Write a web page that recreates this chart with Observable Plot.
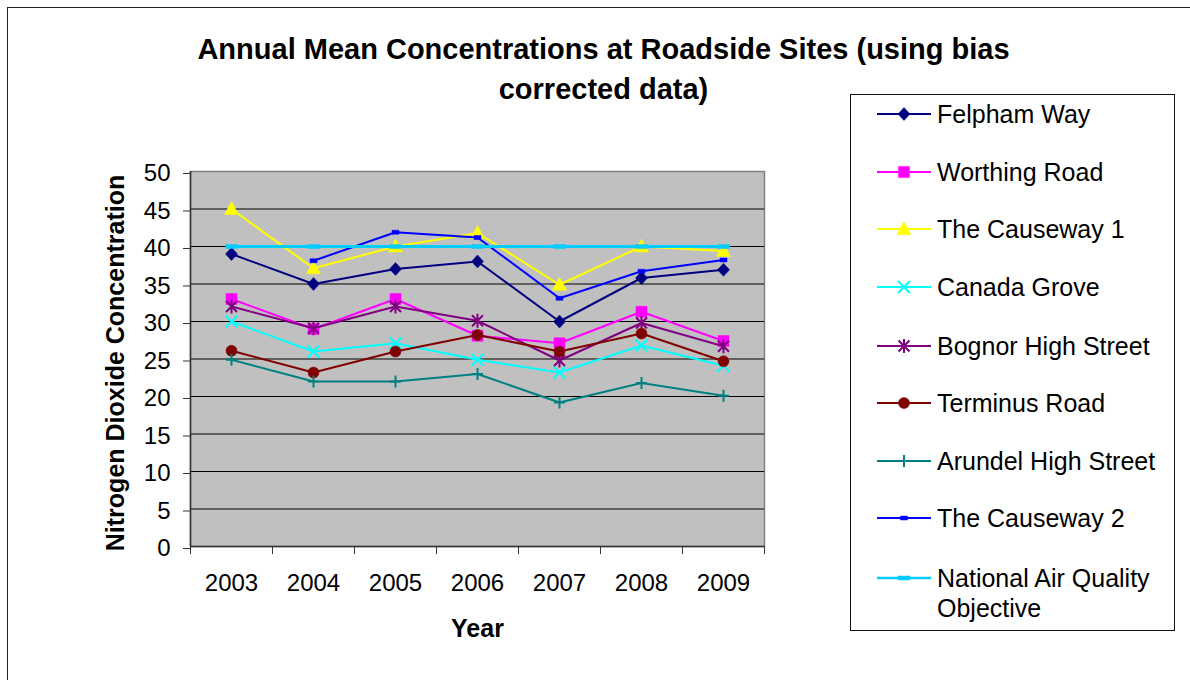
<!DOCTYPE html>
<html>
<head>
<meta charset="utf-8">
<script src="https://cdn.jsdelivr.net/npm/d3@7"></script>
<script src="https://cdn.jsdelivr.net/npm/@observablehq/plot@0.6"></script>
<style>
  html, body { margin: 0; padding: 0; background: #fff; overflow: hidden; }
  body { font-family: "Liberation Sans", Arial, sans-serif; color: #000; }
  #wrap { position: relative; width: 1190px; height: 680px; overflow: hidden; }
  #chart { position: absolute; left: 0; top: 0; }
  #border { position: absolute; left: 7px; top: 7px; width: 1300px; height: 800px; border: 1.5px solid #222; box-sizing: border-box; }
  #title { position: absolute; left: 0; top: 29px; width: 1207px; text-align: center; font-weight: bold; font-size: 29px; line-height: 40px; }
  #legend { position: absolute; left: 850px; top: 94px; width: 325px; height: 537px; border: 1.2px solid #111; box-sizing: border-box; background: #fff; }
  .lrow { position: absolute; left: 0; font-size: 25px; line-height: 30px; white-space: nowrap; }
  .lsym { position: absolute; }
</style>
</head>
<body>
<div id="wrap">
  <div id="chart"></div>
  <div id="border"></div>
  <div id="title"></div>
  <div id="legend"></div>
</div>
<script>
// ---------- data ----------
const years = [2003, 2004, 2005, 2006, 2007, 2008, 2009];
const seriesNames = [
  "Felpham Way", "Worthing Road", "The Causeway 1", "Canada Grove",
  "Bognor High Street", "Terminus Road", "Arundel High Street",
  "The Causeway 2", "National Air Quality Objective"
];
const felphamWay        = [39.0, 35.0, 37.0, 38.0, 30.0, 35.8, 36.9];
const worthingRoad      = [33.0, 29.0, 33.0, 28.1, 27.1, 31.3, 27.4];
const theCauseway1      = [45.0, 37.1, 40.0, 41.8, 34.9, 40.0, 39.4];
const canadaGrove       = [30.0, 26.0, 27.1, 24.9, 23.2, 26.8, 24.1];
const bognorHighStreet  = [32.0, 29.1, 32.0, 30.1, 24.8, 29.8, 26.7];
const terminusRoad      = [26.1, 23.2, 26.0, 28.2, 26.0, 28.4, 24.7];
const arundelHighStreet = [24.9, 22.0, 22.0, 23.0, 19.2, 21.8, 20.1];
const theCauseway2      = [null, 38.1, 41.9, 41.2, 33.1, 36.7, 38.2];
const nationalObjective = [40, 40, 40, 40, 40, 40, 40];
const yTicks = [0, 5, 10, 15, 20, 25, 30, 35, 40, 45, 50];
const titleLines = ["Annual Mean Concentrations at Roadside Sites (using bias", "corrected data)"];
const xLabel = "Year";
const yLabel = "Nitrogen Dioxide Concentration";

const seriesValues = [felphamWay, worthingRoad, theCauseway1, canadaGrove,
  bognorHighStreet, terminusRoad, arundelHighStreet, theCauseway2, nationalObjective];

// ---------- styles ----------
const colors = ["#000080", "#ff00ff", "#ffff00", "#00ffff", "#800080", "#800000", "#008080", "#0000ff", "#00ccff"];
const sym = f => ({draw: (ctx) => f(ctx)});
const symbols = [
  sym(c => { c.moveTo(0, -6.5); c.lineTo(6, 0); c.lineTo(0, 6.5); c.lineTo(-6, 0); c.closePath(); }),
  sym(c => { c.rect(-5.5, -5.5, 11, 11); }),
  sym(c => { c.moveTo(0, -7.5); c.lineTo(7, 5.5); c.lineTo(-7, 5.5); c.closePath(); }),
  sym(c => { c.moveTo(-6, -6); c.lineTo(6, 6); c.moveTo(6, -6); c.lineTo(-6, 6); }),
  sym(c => { c.moveTo(-5.5, -5.5); c.lineTo(5.5, 5.5); c.moveTo(5.5, -5.5); c.lineTo(-5.5, 5.5); c.moveTo(0, -7); c.lineTo(0, 7); }),
  sym(c => { c.moveTo(5.5, 0); c.arc(0, 0, 5.5, 0, 2 * Math.PI); c.closePath(); }),
  sym(c => { c.moveTo(0, -6); c.lineTo(0, 6); c.moveTo(-5.5, 0); c.lineTo(5.5, 0); }),
  sym(c => { c.rect(-3.5, -2, 7, 4); }),
  sym(c => { c.rect(-6, -2, 12, 4); })
];
const filled = [true, true, true, false, false, true, false, true, true];
const lineWidths = [2, 2, 2, 2, 2, 2, 2, 2, 3];

// ---------- table ----------
const rows = seriesNames.flatMap((name, i) =>
  years.map((yr, j) => ({series: name, year: yr, value: seriesValues[i][j]}))
       .filter(d => d.value != null));
const bounds = d3.range(years.length + 1).map(k => years[0] - 0.5 + k);

// ---------- marks ----------
const seriesMarks = seriesNames.flatMap((name, i) => {
  const data = rows.filter(d => d.series === name);
  return [
    Plot.line(data, {x: "year", y: "value", stroke: colors[i], strokeWidth: lineWidths[i]}),
    Plot.dot(data, {
      x: "year", y: "value", symbol: symbols[i], r: 5,
      fill: filled[i] ? colors[i] : "none",
      stroke: colors[i],
      strokeWidth: filled[i] ? 0.5 : 2
    })
  ];
});

const chart = Plot.plot({
  width: 1190,
  height: 680,
  marginLeft: 190,
  marginRight: 426,
  marginTop: 171,
  marginBottom: 134,
  x: {domain: [bounds[0], bounds[bounds.length - 1]]},
  y: {domain: [0, 50]},
  style: {fontFamily: "'Liberation Sans', Arial, sans-serif", background: "transparent", color: "#000"},
  marks: [
    Plot.frame({fill: "#c0c0c0", stroke: "#808080", strokeWidth: 1.5}),
    Plot.gridY(yTicks.filter(t => t > 0 && t < 50), {stroke: "#000", strokeOpacity: 1, strokeWidth: 1}),
    Plot.ruleX([bounds[0]], {stroke: "#333", strokeWidth: 1.5}),
    Plot.ruleY([0], {stroke: "#333", strokeWidth: 1.5}),
    Plot.axisY({ticks: yTicks, tickSize: 7, tickPadding: 13, fontSize: 24, tickFormat: d => String(d), label: null, stroke: "#333", dy: 2}),
    Plot.axisX({ticks: years, tickSize: 0, tickPadding: 27, fontSize: 24, tickFormat: d => String(d), label: null}),
    Plot.axisX({ticks: bounds, tickSize: 8, tickFormat: () => "", label: null, stroke: "#333"}),
    ...seriesMarks,
    Plot.text([xLabel], {frameAnchor: "bottom", dy: 82, lineAnchor: "middle", textAnchor: "middle", text: d => d, fontSize: 25, fontWeight: "bold"}),
    Plot.text([yLabel], {frameAnchor: "left", dx: -75, dy: 4, rotate: -90, lineAnchor: "middle", textAnchor: "middle", text: d => d, fontSize: 25, fontWeight: "bold"})
  ]
});
document.getElementById("chart").appendChild(chart);

// ---------- title ----------
document.getElementById("title").innerHTML = titleLines.join("<br>");

// ---------- legend ----------
const legend = document.getElementById("legend");
const legendCenters = [18.7, 77, 133.7, 192, 251, 307.7, 366, 422.7, 482.7];
seriesNames.forEach((name, i) => {
  const cy = legendCenters[i];
  const svg = d3.create("svg").attr("class", "lsym")
    .attr("width", 60).attr("height", 24)
    .style("left", "24px").style("top", (cy - 12) + "px");
  svg.append("line").attr("x1", 2).attr("x2", 56).attr("y1", 12).attr("y2", 12)
    .attr("stroke", colors[i]).attr("stroke-width", i === 8 ? 2.5 : 2);
  const p = d3.path();
  symbols[i].draw(p);
  svg.append("path").attr("d", p.toString())
    .attr("transform", "translate(29,12)")
    .attr("fill", filled[i] ? colors[i] : "none")
    .attr("stroke", colors[i]).attr("stroke-width", filled[i] ? 0.5 : 2);
  legend.appendChild(svg.node());
  const div = document.createElement("div");
  div.className = "lrow";
  div.style.left = "86px";
  div.style.top = (cy - 15) + "px";
  if (i === 8) {
    div.innerHTML = "National Air Quality<br>Objective";
  } else {
    div.textContent = name;
  }
  legend.appendChild(div);
});
</script>
</body>
</html>
